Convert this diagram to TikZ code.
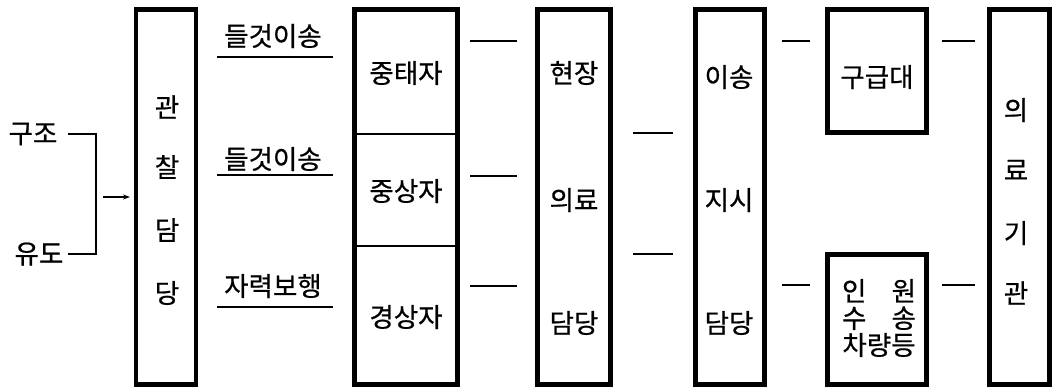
\documentclass[tikz,border=0pt]{standalone}
\usepackage{fontspec}
\setmainfont{Noto Sans CJK KR}[FakeBold=0.6]
\usetikzlibrary{arrows.meta}
\begin{document}
\begin{tikzpicture}[x=1pt,y=-1pt,>={Stealth[length=7pt,width=5pt]}, font=\fontsize{26.5}{28}\selectfont, line join=miter,
	bigbox/.style={draw,line width=4.5pt,inner sep=0pt,outer sep=0pt},
	txt/.style={inner sep=0pt},
	thin/.style={line width=1.8pt}]
	\useasboundingbox (0,0) rectangle (1054,389);
	% boxes
	\node[bigbox,minimum width=60pt,minimum height=375pt] (gwan) at (166,197) {};
	\node[bigbox,minimum width=103pt,minimum height=375pt] (hwan) at (406,197) {};
	\node[bigbox,minimum width=73pt,minimum height=375pt] (hyun) at (574,197) {};
	\node[bigbox,minimum width=69pt,minimum height=375pt] (iso) at (730,197) {};
	\node[bigbox,minimum width=99pt,minimum height=123pt] (gugup) at (877,71) {};
	\node[bigbox,minimum width=99pt,minimum height=130pt] (inwon) at (877,319.5) {};
	\node[bigbox,minimum width=60pt,minimum height=375pt] (uiryo) at (1019.5,197) {};
	\draw[line width=1.5pt] (hwan.west|-0,134)--(hwan.east|-0,134) (hwan.west|-0,246)--(hwan.east|-0,246);
	% texts
	\node[txt] (gujo) at (33,134) {구조};
	\node[txt] (yudo) at (39,254) {유도};
	\foreach \t/\y [count=\i] in {관/107,찰/167,담/230,당/293}
	\node[txt] (g\i) at (167,\y) {\t};
	\foreach \t/\y [count=\i] in {들것이송/36,들것이송/159,자력보행/286}
	\node[txt] (m\i) at (273,\y) {\t};
	\foreach \t/\y [count=\i] in {중태자/73,중상자/191,경상자/317}
	\node[txt] (h\i) at (406,\y) {\t};
	\foreach \t/\y [count=\i] in {현장/73,의료/200,담당/323}
	\node[txt] (j\i) at (574,\y) {\t};
	\foreach \t/\y [count=\i] in {이송/77,지시/200,담당/323}
	\node[txt] (s\i) at (729,\y) {\t};
	\node[txt] (gu) at (877,77) {구급대};
	\node[txt,align=center,font=\fontsize{26.5}{27}\selectfont] (in) at (879,318) {\hbox to 74pt{인\hfill 원}\\\hbox to 74pt{수\hfill 송}\\차량등};
	\foreach \t/\y [count=\i] in {의/110,료/170,기/233,관/293}
	\node[txt] (u\i) at (1016,\y) {\t};
	% connectors
	\draw[thin] (68,134) coordinate (bA) -- (96,134) |- (68,254) coordinate (bB);
	\draw[line width=1.3pt,->] (103,197) coordinate (ar) -- ([xshift=-6pt]gwan.west);
	\foreach \y [count=\i] in {57,175,307}
	\draw[thin] (217,\y) coordinate (ua\i) -- (333,\y) coordinate (ub\i);
	\foreach \xa/\xb/\y [count=\i] in {470/517/41,470/517/176,470/517/286,633/673/133,633/673/254,782/810/41,782/810/285,942/975/41,942/975/285}
	\draw[thin] (\xa,\y) coordinate (da\i) -- (\xb,\y) coordinate (db\i);
\end{tikzpicture}
\end{document}
